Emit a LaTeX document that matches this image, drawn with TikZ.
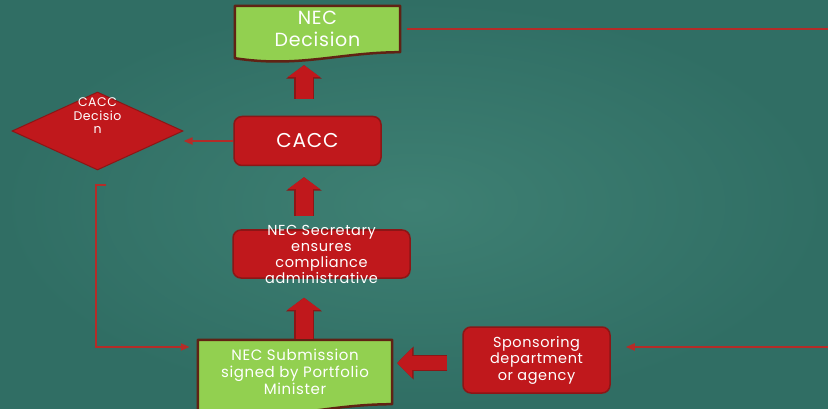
\documentclass[tikz,border=0pt]{standalone}
\usepackage{fontspec}
\setmainfont{Poppins}[LetterSpace=4]
\usetikzlibrary{shapes.geometric,arrows.meta,backgrounds}
\definecolor{bgin}{RGB}{62,128,115}
\definecolor{bgout}{RGB}{48,110,100}
\definecolor{boxred}{RGB}{192,24,28}
\definecolor{boxedge}{RGB}{140,22,22}
\definecolor{docgreen}{RGB}{146,208,80}
\definecolor{docedge}{RGB}{96,34,20}
\definecolor{linkred}{RGB}{180,44,40}
\begin{document}
\begin{tikzpicture}[x=1pt, y=-1pt,
  every node/.style={text=white, align=center, inner sep=0pt},
  redbox/.style={draw=boxedge, line width=1.5pt, fill=boxred, rounded corners=8pt},
  docshape/.style={draw=docedge, line width=2.5pt, fill=docgreen, line join=round},
  link/.style={draw=linkred, line width=2pt, -{Triangle[width=7pt,length=9pt]}},
  bigup/.style={draw=boxred, line width=17pt, -{Triangle[width=32pt,length=12pt]},
    preaction={draw=boxedge, line width=19.5pt, -{Triangle[width=35pt,length=13.5pt]}}},
  bigleft/.style={draw=boxred, line width=14pt, -{Triangle[width=29pt,length=15pt]},
    preaction={draw=boxedge, line width=16.5pt, -{Triangle[width=32pt,length=16.5pt]}}}]
  \useasboundingbox (0,0) rectangle (828,409);
  \coordinate (spine) at (304,0);
  \coordinate (edge) at (830,0);
  \coordinate (back) at (830,347);

  \node[minimum width=165pt, minimum height=46pt, font=\fontsize{19}{22}\selectfont] (dec) at (317.5,29) {NEC\\Decision};
  \node[redbox, minimum width=147pt, minimum height=49pt, font=\fontsize{20}{22}\selectfont] (cacc) at (307.5,141) {CACC};
  \node[diamond, draw=boxedge, fill=boxred, line width=1pt, minimum width=171pt, minimum height=78pt,
    label={[align=center, font=\fontsize{12.5}{13.5}\selectfont, yshift=15pt]center:{CACC\\Decisio\\n}}] (dia) at (97.5,131) {};
  \node[redbox, minimum width=177pt, minimum height=48pt, inner ysep=-9pt, font=\fontsize{14.5}{16}\selectfont] (sec) at (321.5,254) {NEC Secretary\\ensures\\compliance\\administrative};
  \node[minimum width=194pt, minimum height=64pt, font=\fontsize{15}{17}\selectfont] (sub) at (295,372) {NEC Submission\\signed by Portfolio\\Minister};
  \node[redbox, minimum width=147pt, minimum height=66pt, font=\fontsize{14.5}{16.5}\selectfont] (spon) at (536.5,360) {Sponsoring\\department\\or agency};

  \begin{pgfonlayer}{background}
    \fill[inner color=bgin, outer color=bgout] (0,0) rectangle (828,409);
    \draw[docshape] (dec.north west) -- (dec.north east) -- (dec.south east)
      .. controls +(-60,0) and +(64,10) .. ([yshift=-6pt]dec.south west) -- cycle;
    \draw[docshape] (sub.north west) -- (sub.north east) -- (sub.south east)
      .. controls +(-70,0) and +(75,10) .. ([yshift=-10pt]sub.south west) -- cycle;
  \end{pgfonlayer}

  \draw[bigup, shorten <=17pt, shorten >=13pt] (cacc.north -| spine) -- (dec.south -| spine);
  \draw[bigup, shorten <=13pt, shorten >=11pt] (sec.north -| spine) -- (cacc.south -| spine);
  \draw[bigup, shorten <=1pt, shorten >=19pt] (sub.north -| spine) -- (sec.south -| spine);
  \draw[bigleft, shorten <=15pt, shorten >=5pt] ([yshift=-3pt]spon.west) -- ([yshift=-3pt]spon.west -| sub.east);

  \draw[link] (cacc.west) -- (cacc.west -| dia.east);
  \draw[link, shorten >=8pt] ([xshift=8.5pt,yshift=-15pt]dia.south) -- ++(-10,0) |- ([yshift=25pt]sub.west);
  \draw[link, shorten >=15pt] ([xshift=7pt]dec.east) -- (dec.east -| edge) -- (back) -- (back -| spon.east);
\end{tikzpicture}
\end{document}
